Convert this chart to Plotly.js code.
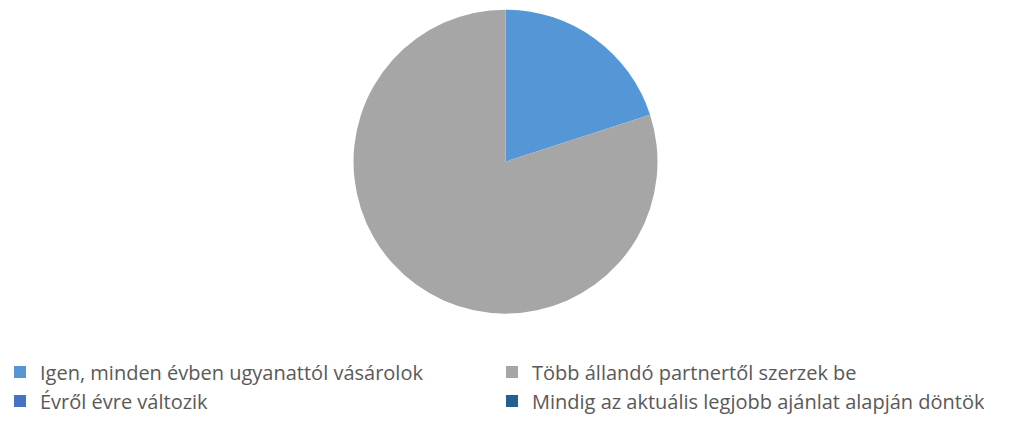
<!DOCTYPE html>
<html>
<head>
<meta charset="utf-8">
<script src="https://cdn.plot.ly/plotly-3.0.1.min.js"></script>
<style>html,body{margin:0;padding:0;background:#fff;}#chart{width:1011px;height:421px;}</style>
</head>
<body>
<div id="chart"></div>
<script>
// Data
const labels = [
  "Igen, minden évben ugyanattól vásárolok",
  "Több állandó partnertől szerzek be",
  "Évről évre változik",
  "Mindig az aktuális legjobb ajánlat alapján döntök"
];
const values = [20, 80, 0, 0];
const colors = ["#5597d6", "#a6a6a6", "#4472c4", "#255e91"];

const traces = [{
  type: "pie", labels: labels, values: values,
  marker: {colors: colors, line: {width: 0}},
  sort: false, direction: "clockwise", rotation: 0,
  textinfo: "none", hoverinfo: "label+percent",
  domain: {x: [0.3495, 0.6505], y: [0.255, 0.977]}
}];
const layout = {
  width: 1011, height: 421,
  margin: {l: 0, r: 0, t: 0, b: 0},
  paper_bgcolor: "#ffffff",
  showlegend: true,
  legend: {orientation: "h", x: 0, xanchor: "left", y: 1 - 386.5/421, yanchor: "middle",
           entrywidth: 447, entrywidthmode: "pixels", traceorder: "normal",
           font: {family: "Open Sans, sans-serif", size: 20, color: "#595959"}}
};
Plotly.newPlot("chart", traces, layout, {displayModeBar: false, staticPlot: true});
</script>
</body>
</html>
